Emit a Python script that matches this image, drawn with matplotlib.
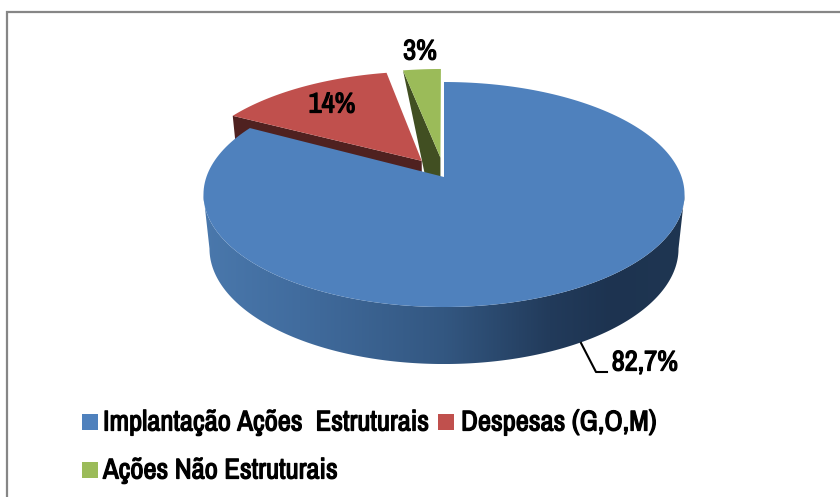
import numpy as np
import matplotlib
matplotlib.use("Agg")
import matplotlib.pyplot as plt
import matplotlib.font_manager as fm
import matplotlib.patheffects as pe
from matplotlib.patches import Polygon, Rectangle
from matplotlib.colors import LinearSegmentedColormap

categories = ["Implantação Ações  Estruturais", "Despesas (G,O,M)", "Ações Não Estruturais"]
values = [82.7, 14, 3]
labels = ["82,7%", "14%", "3%"]
colors = ["#4F81BD", "#C0504D", "#9BBB59"]
wall_colors = [None, "#4F2120", "#414F22"]

_have = {f.name for f in fm.fontManager.ttflist}
FONT = [n for n in ("Archivo Narrow", "PT Sans Narrow", "Roboto Condensed", "Barlow Condensed",
                    "Liberation Sans") if n in _have][:1] + ["DejaVu Sans"]
W, H = 840, 497
CX, CY = 444.0, 177.0          # apex of the pie on screen
K, A, C = 237.6, -82.24, 0.1556  # projective terms of the tilted disc
DEPTH = 53.6
WALL_C = 0.06
SHRINK = 0.975
EXPLODE = 0.1625
APEX_LIFT = 2.0


def project(u, v):
    w = 1 + C * v
    return CX + K * u / w, (A * v + CY) / w


def lower(x, y, v):
    return CX + (x - CX) * SHRINK, y + DEPTH / (1 + WALL_C * v)


def slice_points(start, end, off):
    """Screen outline of a slice, angles clockwise from 12 o'clock in radians."""
    mid = (start + end) / 2
    ou, ov = off * np.sin(mid), off * np.cos(mid)
    t = np.linspace(start, end, 200)
    ax_, ay_ = project(ou, ov)
    px, py = project(ou + np.sin(t), ov + np.cos(t))
    return (ax_, ay_), np.column_stack([px, py])


fig = plt.figure(figsize=(W / 100, H / 100), dpi=100, facecolor="white")
ax = fig.add_axes([0, 0, 1, 1])
ax.set_axis_off()

frac = np.array(values) / sum(values)
edges = np.concatenate([[0], np.cumsum(frac)]) * 2 * np.pi

# exploded back slices
apex_r, arc_r = slice_points(edges[1], edges[2], EXPLODE)
apex_g, arc_g = slice_points(edges[2], edges[3], EXPLODE)
apex_r = (apex_r[0], apex_r[1] - APEX_LIFT)
apex_g = (apex_g[0], apex_g[1] - APEX_LIFT)

# red radial wall
mid_r = (edges[1] + edges[2]) / 2
v_ap = EXPLODE * np.cos(mid_r)
v_out = v_ap + np.cos(edges[1])
p0 = arc_r[0]
b0 = lower(p0[0], p0[1], v_out)
b1 = lower(apex_r[0], apex_r[1], v_ap)
ax.add_patch(Polygon([p0, apex_r, b1, b0], fc=wall_colors[1], ec="none", zorder=2))

# green radial wall
p0g = arc_g[0]
vg = EXPLODE * np.cos((edges[2] + edges[3]) / 2)
gb = (apex_g[0], apex_g[1] + DEPTH / (1 + WALL_C * vg))
ax.add_patch(Polygon([p0g, apex_g, gb, (gb[0] - 8, gb[1])], fc=wall_colors[2], ec="none", zorder=2))

ax.add_patch(Polygon(np.vstack([[apex_r], arc_r]), fc=colors[1], ec="none", zorder=3))
ax.add_patch(Polygon(np.vstack([[apex_g], arc_g]), fc=colors[2], ec="none", zorder=3))

# blue outer wall with shading, running between the two widest points of the disc
t0 = np.arccos(-C)
t = np.linspace(t0, 2 * np.pi - t0, 300)
tx, ty = project(np.sin(t), np.cos(t))
bx, by = lower(tx, ty, np.cos(t))
wall = np.vstack([np.column_stack([tx, ty]), np.column_stack([bx, by])[::-1]])
shade = LinearSegmentedColormap.from_list(
    "wall",
    [(0.0, "#4A78AC"), (0.2, "#416C9E"), (0.5, "#335781"), (0.72, "#223B5B"),
     (0.85, "#1D3350"), (1.0, "#1F3652")],
)
clip = Polygon(wall, transform=ax.transData, fc="none", ec="none")
ax.add_patch(clip)
im = ax.imshow(np.linspace(0, 1, 256)[None, :], cmap=shade, aspect="auto",
               extent=(tx.min(), tx.max(), by.max(), ty.min()), zorder=4)
im.set_clip_path(clip)

# blue top
apex_b, arc_b = slice_points(edges[0], edges[1], 0.0)
ax.add_patch(Polygon(np.vstack([[apex_b], arc_b]), fc=colors[0], ec="none", zorder=5))

ax.set_xlim(0, W)
ax.set_ylim(H, 0)

# frame
ax.plot([7, 7, W], [H, 12, 12], color="#868686", lw=1.6, solid_joinstyle="miter", zorder=1)

# value labels
bold = [pe.withStroke(linewidth=0.9, foreground="black")]
tkw = dict(family=FONT, color="black", ha="center", va="center", zorder=8, path_effects=bold)
ax.text(645, 363, labels[0], fontsize=20.5, **tkw)
ax.text(332, 105, labels[1], fontsize=20.5, **tkw)
ax.text(420, 52, labels[2], fontsize=20.5, **tkw)
ax.plot([581, 596, 607], [343, 372, 372], color="black", lw=1.5, zorder=7)

# legend
lkw = dict(family=FONT, color="black", ha="left", va="center", fontsize=20.6, path_effects=bold)
legend_pos = [(82, 422, 103), (438, 422, 461), (82, 470, 103)]
for name, col, (sx, sy, tx0) in zip(categories, colors, legend_pos):
    ax.add_patch(Rectangle((sx, sy - 8), 16, 16, fc=col, ec="none"))
    ax.text(tx0, sy, name, **lkw)

fig.savefig("out.png", dpi=100)
